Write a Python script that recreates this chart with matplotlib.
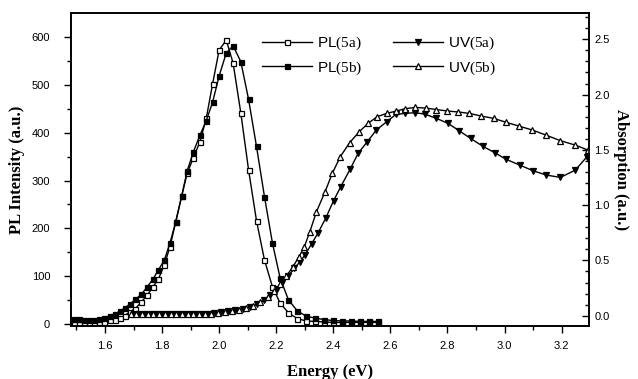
import matplotlib
matplotlib.use("Agg")
import matplotlib.pyplot as plt
from matplotlib.ticker import MultipleLocator

plt.rcParams['font.family'] = ['Liberation Sans', 'DejaVu Sans']
plt.rcParams['mathtext.fontset'] = 'custom'
plt.rcParams['mathtext.rm'] = 'Liberation Serif'

# PL spectra (left axis)
pl_energy = [1.490, 1.508, 1.526, 1.544, 1.562, 1.580, 1.598, 1.616, 1.634, 1.652, 1.669,
             1.687, 1.707, 1.728, 1.748, 1.768, 1.787, 1.808, 1.828, 1.848, 1.869, 1.888,
             1.910, 1.933, 1.955, 1.977, 2.000, 2.025, 2.049, 2.076, 2.103, 2.131, 2.159,
             2.187, 2.214, 2.243, 2.274, 2.305, 2.336, 2.367, 2.398, 2.430, 2.462, 2.494,
             2.526, 2.558]
pl_5a = [1, 1, 2, 2, 3, 4, 5, 8, 10, 13, 18,
         26, 33, 47, 61, 78, 94, 124, 162, 214, 268, 315,
         348, 381, 430, 501, 572, 593, 545, 441, 323, 216, 134,
         78, 44, 24, 12, 7, 6, 5, 4, 4, 4, 4,
         4, 4]
pl_5b = [12, 11, 10, 9, 9, 11, 14, 18, 22, 27, 34,
         42, 52, 63, 78, 94, 113, 134, 170, 214, 268, 320,
         360, 395, 425, 463, 518, 566, 581, 548, 470, 371, 266,
         169, 96, 51, 28, 17, 13, 10, 8, 7, 7, 6,
         6, 6]

# UV absorption (right axis)
uv_a_energy = [1.700, 1.720, 1.740, 1.760, 1.780, 1.800, 1.820, 1.840, 1.860, 1.880,
               1.900, 1.920, 1.940, 1.960, 1.982, 2.007, 2.032, 2.057, 2.082, 2.107,
               2.132, 2.157, 2.180, 2.202, 2.222, 2.243, 2.264, 2.284, 2.301, 2.324,
               2.347, 2.374, 2.401, 2.426, 2.460, 2.487, 2.519, 2.551, 2.587, 2.619,
               2.651, 2.686, 2.720, 2.761, 2.802, 2.841, 2.881, 2.923, 2.966, 3.006,
               3.053, 3.100, 3.147, 3.196, 3.248, 3.289, 3.310]
uv_5a = [0.014, 0.012, 0.012, 0.012, 0.012, 0.012, 0.013, 0.013, 0.013, 0.014,
         0.014, 0.015, 0.016, 0.019, 0.024, 0.031, 0.040, 0.050, 0.062, 0.077,
         0.105, 0.140, 0.185, 0.245, 0.300, 0.360, 0.430, 0.490, 0.550, 0.650,
         0.750, 0.885, 1.040, 1.166, 1.330, 1.468, 1.573, 1.680, 1.754, 1.820,
         1.830, 1.836, 1.824, 1.785, 1.740, 1.673, 1.604, 1.534, 1.474, 1.414,
         1.363, 1.311, 1.272, 1.251, 1.317, 1.438, 1.560]

uv_b_energy = [1.690, 1.710, 1.730, 1.750, 1.770, 1.790, 1.810, 1.830, 1.850, 1.870,
               1.890, 1.910, 1.930, 1.950, 1.970, 1.995, 2.020, 2.045, 2.070, 2.095,
               2.120, 2.145, 2.170, 2.192, 2.214, 2.236, 2.258, 2.279, 2.298, 2.318,
               2.341, 2.371, 2.397, 2.425, 2.457, 2.491, 2.522, 2.554, 2.587, 2.619,
               2.651, 2.686, 2.724, 2.761, 2.798, 2.837, 2.877, 2.918, 2.962, 3.006,
               3.051, 3.098, 3.145, 3.196, 3.248, 3.293]
uv_5b = [0.020, 0.015, 0.012, 0.012, 0.012, 0.012, 0.012, 0.013, 0.013, 0.013,
         0.014, 0.014, 0.015, 0.017, 0.020, 0.027, 0.035, 0.045, 0.056, 0.068,
         0.088, 0.122, 0.165, 0.220, 0.285, 0.360, 0.440, 0.530, 0.620, 0.760,
         0.940, 1.120, 1.290, 1.440, 1.564, 1.664, 1.740, 1.800, 1.830, 1.850,
         1.872, 1.884, 1.878, 1.865, 1.852, 1.843, 1.830, 1.806, 1.785, 1.749,
         1.715, 1.679, 1.634, 1.583, 1.543, 1.498]

fig = plt.figure(figsize=(6.38, 3.79), dpi=100)
ax = fig.add_axes([71/638, 1 - 326/379, (588.7 - 71)/638, (326 - 13)/379])
ax2 = ax.twinx()

lw = 1.0
h1, = ax.plot(pl_energy, pl_5a, '-s', color='black', lw=lw, ms=3.6, mfc='white', mec='black', mew=0.9,
              label=r'PL$\mathrm{(5a)}$')
h2, = ax.plot(pl_energy, pl_5b, '-s', color='black', lw=lw, ms=3.6, mfc='black', mec='black', mew=0.9,
              label=r'PL$\mathrm{(5b)}$')
h3, = ax2.plot(uv_a_energy, uv_5a, '-v', color='black', lw=lw, ms=4.2, mfc='black', mec='black', mew=0.9,
               label=r'UV$\mathrm{(5a)}$')
h4, = ax2.plot(uv_b_energy, uv_5b, '-^', color='black', lw=lw, ms=4.2, mfc='white', mec='black', mew=0.9,
               label=r'UV$\mathrm{(5b)}$')

ax.set_xlim(1.481, 3.295)
ax.set_ylim(-3.5, 649.5)
ax2.set_ylim(-0.093, 2.738)

ax.xaxis.set_major_locator(MultipleLocator(0.2))
ax.xaxis.set_minor_locator(MultipleLocator(0.1))
ax.yaxis.set_major_locator(MultipleLocator(100))
ax.yaxis.set_minor_locator(MultipleLocator(50))
ax2.yaxis.set_major_locator(MultipleLocator(0.5))
ax2.yaxis.set_minor_locator(MultipleLocator(0.1))

ax.tick_params(axis='x', which='major', direction='out', length=5, width=1, labelsize=8, pad=6)
ax.tick_params(axis='x', which='minor', direction='out', length=3, width=1)
ax.tick_params(axis='y', which='major', direction='out', length=5, width=1, labelsize=8, pad=10)
ax.tick_params(axis='y', which='minor', direction='out', length=3, width=1)
ax.tick_params(top=False, which='both')
ax2.tick_params(axis='y', which='major', direction='in', length=5, width=1, labelsize=8, pad=4)
ax2.tick_params(axis='y', which='minor', direction='in', length=3, width=1)

for a in (ax, ax2):
    for s in a.spines.values():
        s.set_linewidth(1.2)

ax.set_xlabel('Energy (eV)', family='Liberation Serif', weight='bold', fontsize=12, labelpad=9)
ax.set_ylabel('PL Intensity (a.u.)', family='Liberation Serif', weight='bold', fontsize=12, labelpad=5)
ax2.set_ylabel('Absorption (a.u.)', family='Liberation Serif', weight='bold', fontsize=12,
               rotation=270, labelpad=14)

leg = ax2.legend(handles=[h1, h2, h3, h4], ncol=2, loc='upper left',
                 bbox_to_anchor=(262/638, 1 - 35/379), bbox_transform=fig.transFigure,
                 frameon=False, fontsize=11, numpoints=1, handlelength=3.3,
                 handletextpad=0.3, columnspacing=2.0, borderpad=0, borderaxespad=0,
                 labelspacing=0.45)

fig.savefig('out.png', dpi=100)
